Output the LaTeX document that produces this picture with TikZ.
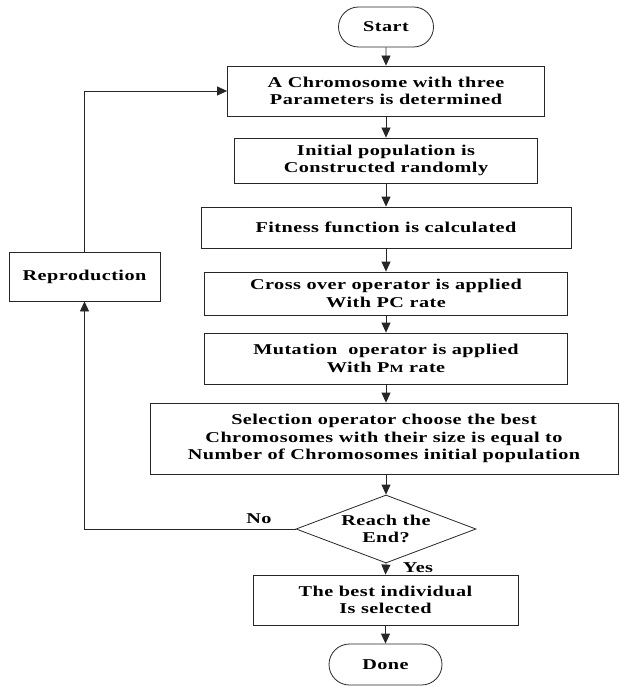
\documentclass[tikz,border=0pt]{standalone}
\usepackage{fontspec}
\setmainfont{Liberation Serif}[FakeStretch=1.35,LetterSpace=3]
\usetikzlibrary{shapes.misc,shapes.geometric,arrows.meta}
\begin{document}
\begin{tikzpicture}[x=1pt,y=-1pt,
  every node/.style={font=\fontsize{15}{17.5}\selectfont\bfseries},
  box/.style={draw=black!85,line width=0.8pt,rectangle,align=center,inner sep=0pt},
  term/.style={draw=black!85,line width=0.8pt,rounded rectangle,align=center,inner sep=0pt},
  dec/.style={draw=black!85,line width=0.8pt,diamond,inner sep=0pt},
  flow/.style={draw=black!85,line width=0.8pt,-{Triangle[length=10pt,width=9pt]}},
  plain/.style={draw=black!85,line width=0.8pt}]
\useasboundingbox (0,0) rectangle (619,687);
\node[term,minimum width=95pt,minimum height=40pt] (start) at (386,27) {Start};
\node[box,minimum width=317pt,minimum height=50pt] (b1) at (386,91) {A Chromosome with three\\Parameters is determined};
\node[box,minimum width=303pt,minimum height=45pt] (b2) at (386,160.5) {Initial population is\\Constructed randomly};
\node[box,minimum width=370pt,minimum height=41pt] (b3) at (386,227.5) {Fitness function is calculated};
\node[box,minimum width=363pt,minimum height=43pt] (b4) at (386,293.5) {Cross over operator is applied\\With PC rate};
\node[box,minimum width=363pt,minimum height=51pt] (b5) at (386,358.5) {Mutation\ \ operator is applied\\With P{\fontsize{11}{12}\selectfont M} rate};
\node[box,minimum width=468pt,minimum height=71pt] (b6) at (384,438.5) {Selection operator choose the best\\Chromosomes with their size is equal to\\Number of Chromosomes initial population};
\node[dec,minimum width=180pt,minimum height=68pt] (d) at (386,529) {};
\node[align=center,inner sep=0pt] (dtext) at (386,529) {Reach the\\End?};
\node[box,minimum width=265pt,minimum height=50pt] (b7) at (385.5,600) {The best individual\\Is selected};
\node[term,minimum width=113pt,minimum height=41pt] (done) at (385.5,664.5) {Done};
\node[box,minimum width=151pt,minimum height=49pt] (rep) at (84.5,276.5) {Reproduction};
\node (no) at (259,519) {No};
\node (yes) at (418,568) {Yes};
\coordinate (c1) at (84.5,91);
\coordinate (c2) at (84.5,529);
\draw[flow] (start) -- (b1);
\draw[flow] (b1) -- (b2);
\draw[flow] (b2) -- (b3);
\draw[flow] (b3) -- (b4);
\draw[flow] (b4) -- (b5);
\draw[flow] (b5.south) -- (b5.south |- b6.north);
\draw[flow] (b6.south -| d.north) -- (d.north);
\draw[flow] (d.south) -- (b7.north);
\draw[flow] (b7) -- (done);
\draw[flow] (rep.north) -- (c1) -- (b1.west);
\draw[flow] (d.west) -- (c2) -- (rep.south);
\end{tikzpicture}
\end{document}
